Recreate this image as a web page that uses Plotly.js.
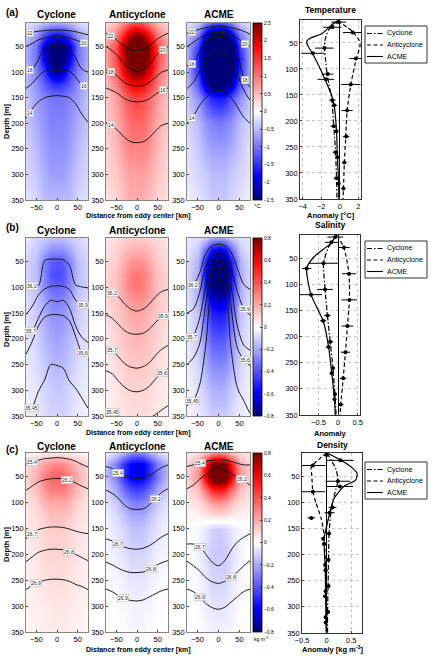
<!DOCTYPE html>
<html>
<head>
<meta charset="utf-8">
<script src="https://cdn.plot.ly/plotly-3.0.1.min.js"></script>
<style>html,body{margin:0;padding:0;background:#fff}#chart{width:434px;height:656px}</style>
</head>
<body>
<div id="chart"></div>
<script>
// ---------- sections: grid of the composite eddy fields ----------
const distKm = [-75, -50, -30, -15, 0, 15, 30, 50, 75];
const depthM = [4, 25, 50, 75, 100, 125, 150, 200, 250, 300, 350];

// temperature anomaly (°C), rows = depthM, columns = distKm
const tempCyclone = [
  [-0.2,-0.3,-0.5,-0.6,-0.6,-0.6,-0.5,-0.3,-0.2],
  [-0.4,-0.7,-1.3,-1.6,-1.7,-1.6,-1.3,-0.7,-0.4],
  [-0.6,-1.0,-2.1,-2.6,-2.7,-2.6,-2.1,-1.0,-0.6],
  [-0.6,-1.0,-2.0,-2.6,-2.8,-2.6,-2.0,-1.0,-0.6],
  [-0.5,-0.9,-1.5,-2.1,-2.4,-2.1,-1.5,-0.9,-0.5],
  [-0.5,-0.8,-1.2,-1.4,-1.5,-1.4,-1.2,-0.8,-0.5],
  [-0.4,-0.7,-0.9,-1.0,-1.0,-1.0,-0.9,-0.7,-0.4],
  [-0.4,-0.6,-0.8,-0.9,-0.9,-0.9,-0.8,-0.6,-0.4],
  [-0.3,-0.5,-0.7,-0.8,-0.8,-0.8,-0.7,-0.5,-0.3],
  [-0.3,-0.4,-0.6,-0.7,-0.7,-0.7,-0.6,-0.4,-0.3],
  [-0.2,-0.3,-0.5,-0.5,-0.5,-0.5,-0.5,-0.3,-0.2]
];
const tempAnticyclone = [
  [0.3,0.5,0.9,1.2,1.3,1.2,0.9,0.5,0.3],
  [0.5,0.9,1.7,2.2,2.4,2.2,1.7,0.9,0.5],
  [0.7,1.3,2.4,2.9,3.1,2.9,2.4,1.3,0.7],
  [0.7,1.3,2.3,2.9,3.0,2.9,2.3,1.3,0.7],
  [0.6,1.1,2.0,2.4,2.5,2.4,2.0,1.1,0.6],
  [0.5,0.9,1.5,1.8,1.9,1.8,1.5,0.9,0.5],
  [0.4,0.7,1.1,1.3,1.4,1.3,1.1,0.7,0.4],
  [0.4,0.6,0.9,1.1,1.1,1.1,0.9,0.6,0.4],
  [0.3,0.5,0.8,0.9,0.9,0.9,0.8,0.5,0.3],
  [0.3,0.4,0.6,0.7,0.7,0.7,0.6,0.4,0.3],
  [0.2,0.3,0.5,0.6,0.6,0.6,0.5,0.3,0.2]
];
const tempAcme = [
  [-0.2,-0.4,-0.9,-1.2,-1.3,-1.2,-0.9,-0.4,-0.2],
  [-0.4,-0.9,-2.0,-2.5,-2.6,-2.5,-2.0,-0.9,-0.4],
  [-0.6,-1.4,-2.8,-3.2,-3.3,-3.2,-2.8,-1.4,-0.6],
  [-0.6,-1.6,-2.9,-3.3,-3.4,-3.3,-2.9,-1.6,-0.6],
  [-0.6,-1.5,-2.7,-3.0,-3.1,-3.0,-2.7,-1.5,-0.6],
  [-0.5,-1.2,-2.2,-2.6,-2.7,-2.6,-2.2,-1.2,-0.5],
  [-0.4,-0.8,-1.3,-1.6,-1.7,-1.6,-1.3,-0.8,-0.4],
  [-0.3,-0.5,-0.8,-0.9,-1.0,-0.9,-0.8,-0.5,-0.3],
  [-0.2,-0.4,-0.6,-0.7,-0.7,-0.7,-0.6,-0.4,-0.2],
  [-0.2,-0.3,-0.4,-0.5,-0.5,-0.5,-0.4,-0.3,-0.2],
  [-0.1,-0.2,-0.3,-0.4,-0.4,-0.4,-0.3,-0.2,-0.1]
];

// salinity anomaly
const salCyclone = [
  [-0.05,-0.1,-0.12,-0.15,-0.15,-0.15,-0.12,-0.1,-0.05],
  [-0.08,-0.12,-0.2,-0.25,-0.25,-0.25,-0.2,-0.12,-0.08],
  [-0.1,-0.15,-0.3,-0.38,-0.4,-0.38,-0.3,-0.15,-0.1],
  [-0.1,-0.15,-0.3,-0.4,-0.42,-0.4,-0.3,-0.15,-0.1],
  [-0.1,-0.15,-0.28,-0.35,-0.36,-0.35,-0.28,-0.15,-0.1],
  [-0.08,-0.13,-0.22,-0.28,-0.3,-0.28,-0.22,-0.13,-0.08],
  [-0.07,-0.12,-0.2,-0.25,-0.26,-0.25,-0.2,-0.12,-0.07],
  [-0.06,-0.1,-0.17,-0.2,-0.22,-0.2,-0.17,-0.1,-0.06],
  [-0.05,-0.08,-0.13,-0.16,-0.17,-0.16,-0.13,-0.08,-0.05],
  [-0.04,-0.06,-0.1,-0.12,-0.13,-0.12,-0.1,-0.06,-0.04],
  [-0.03,-0.05,-0.08,-0.1,-0.1,-0.1,-0.08,-0.05,-0.03]
];
const salAnticyclone = [
  [0.05,0.08,0.1,0.12,0.12,0.12,0.1,0.08,0.05],
  [0.07,0.1,0.15,0.18,0.18,0.18,0.15,0.1,0.07],
  [0.08,0.12,0.2,0.25,0.26,0.25,0.2,0.12,0.08],
  [0.1,0.14,0.24,0.3,0.32,0.3,0.24,0.14,0.1],
  [0.1,0.14,0.24,0.3,0.32,0.3,0.24,0.14,0.1],
  [0.09,0.13,0.2,0.25,0.26,0.25,0.2,0.13,0.09],
  [0.08,0.12,0.17,0.2,0.21,0.2,0.17,0.12,0.08],
  [0.06,0.1,0.14,0.16,0.17,0.16,0.14,0.1,0.06],
  [0.05,0.08,0.11,0.13,0.13,0.13,0.11,0.08,0.05],
  [0.04,0.06,0.09,0.1,0.1,0.1,0.09,0.06,0.04],
  [0.03,0.05,0.07,0.08,0.08,0.08,0.07,0.05,0.03]
];
const salAcme = [
  [-0.05,-0.08,-0.12,-0.2,-0.22,-0.2,-0.12,-0.08,-0.05],
  [-0.06,-0.12,-0.35,-0.55,-0.6,-0.55,-0.35,-0.12,-0.06],
  [-0.08,-0.18,-0.55,-0.8,-0.85,-0.8,-0.55,-0.18,-0.08],
  [-0.08,-0.2,-0.6,-0.85,-0.9,-0.85,-0.6,-0.2,-0.08],
  [-0.08,-0.2,-0.55,-0.78,-0.82,-0.78,-0.55,-0.2,-0.08],
  [-0.07,-0.18,-0.45,-0.65,-0.7,-0.65,-0.45,-0.18,-0.07],
  [-0.06,-0.15,-0.38,-0.52,-0.55,-0.52,-0.38,-0.15,-0.06],
  [-0.05,-0.12,-0.28,-0.38,-0.4,-0.38,-0.28,-0.12,-0.05],
  [-0.04,-0.1,-0.2,-0.27,-0.28,-0.27,-0.2,-0.1,-0.04],
  [-0.03,-0.07,-0.13,-0.18,-0.19,-0.18,-0.13,-0.07,-0.03],
  [-0.02,-0.05,-0.08,-0.12,-0.12,-0.12,-0.08,-0.05,-0.02]
];

// density anomaly (kg m-3)
const denCyclone = [
  [0.02,0.03,0.05,0.05,0.05,0.05,0.05,0.03,0.02],
  [0.08,0.15,0.22,0.27,0.28,0.27,0.22,0.15,0.08],
  [0.1,0.18,0.3,0.35,0.36,0.35,0.3,0.18,0.1],
  [0.08,0.15,0.25,0.3,0.3,0.3,0.25,0.15,0.08],
  [0.06,0.1,0.18,0.2,0.2,0.2,0.18,0.1,0.06],
  [0.05,0.08,0.12,0.15,0.15,0.15,0.12,0.08,0.05],
  [0.05,0.07,0.1,0.12,0.12,0.12,0.1,0.07,0.05],
  [0.04,0.06,0.09,0.1,0.1,0.1,0.09,0.06,0.04],
  [0.03,0.05,0.07,0.08,0.08,0.08,0.07,0.05,0.03],
  [0.03,0.04,0.05,0.06,0.06,0.06,0.05,0.04,0.03],
  [0.02,0.03,0.04,0.05,0.05,0.05,0.04,0.03,0.02]
];
const denAnticyclone = [
  [-0.05,-0.1,-0.2,-0.28,-0.3,-0.28,-0.2,-0.1,-0.05],
  [-0.15,-0.3,-0.5,-0.6,-0.62,-0.6,-0.5,-0.3,-0.15],
  [-0.15,-0.3,-0.5,-0.6,-0.62,-0.6,-0.5,-0.3,-0.15],
  [-0.1,-0.2,-0.35,-0.42,-0.45,-0.42,-0.35,-0.2,-0.1],
  [-0.06,-0.12,-0.22,-0.28,-0.3,-0.28,-0.22,-0.12,-0.06],
  [-0.04,-0.08,-0.15,-0.2,-0.2,-0.2,-0.15,-0.08,-0.04],
  [-0.03,-0.06,-0.1,-0.14,-0.15,-0.14,-0.1,-0.06,-0.03],
  [-0.02,-0.04,-0.07,-0.1,-0.1,-0.1,-0.07,-0.04,-0.02],
  [-0.01,-0.02,-0.04,-0.06,-0.06,-0.06,-0.04,-0.02,-0.01],
  [0,-0.01,-0.02,-0.03,-0.03,-0.03,-0.02,-0.01,0],
  [0,0,-0.01,-0.02,-0.02,-0.02,-0.01,0,0]
];
const denAcme = [
  [0.05,0.08,0.15,0.25,0.3,0.25,0.15,0.08,0.05],
  [0.1,0.2,0.55,0.8,0.85,0.8,0.55,0.2,0.1],
  [0.12,0.25,0.65,0.9,0.95,0.9,0.65,0.25,0.12],
  [0.08,0.15,0.35,0.5,0.55,0.5,0.35,0.15,0.08],
  [0.05,0.08,0.15,0.22,0.25,0.22,0.15,0.08,0.05],
  [0.02,0.03,0.05,0.07,0.08,0.07,0.05,0.03,0.02],
  [0,-0.02,-0.06,-0.1,-0.12,-0.1,-0.06,-0.02,0],
  [0,-0.03,-0.08,-0.12,-0.13,-0.12,-0.08,-0.03,0],
  [0,-0.02,-0.06,-0.1,-0.1,-0.1,-0.06,-0.02,0],
  [0,-0.01,-0.04,-0.06,-0.07,-0.06,-0.04,-0.01,0],
  [0,0,-0.02,-0.03,-0.03,-0.03,-0.02,0,0]
];

// ---------- isolines of the absolute fields: depth (m) at isoX ----------
const isoX = [-75, -60, -45, -30, -15, 0, 15, 30, 45, 60, 75];

const tempCyc22 = [24,22,20,19,18,18,18,19,21,24,27];
const tempCyc20 = [50,44,37,33,31,30,31,33,37,42,47];
const tempCyc18 = [98,95,75,55,50,48,50,55,72,94,100];
const tempCyc16 = [132,122,108,98,96,96,96,98,110,125,132];
const tempCyc14 = [190,172,158,150,147,146,147,150,162,182,198];
const tempAnti22 = [24,30,40,50,56,58,56,48,38,30,24];
const tempAnti20 = [50,58,70,85,95,98,95,85,68,57,50];
const tempAnti18 = [96,100,110,120,126,127,126,120,110,100,96];
const tempAnti16 = [131,136,143,152,157,158,157,152,143,136,131];
const tempAnti14 = [199,205,215,228,236,238,236,228,215,204,200];
const tempAcme22 = [24,20,16,13,11,10,11,13,16,20,26];
const tempAcme20 = [50,42,33,27,23,22,23,27,34,42,50];
const tempAcme18 = [88,82,60,42,33,30,33,42,65,110,130];
const tempAcme16 = [132,120,98,78,66,62,66,80,105,135,155];
const tempAcme14 = [200,186,165,150,140,135,140,150,168,188,200];

const salCyc362 = [100,98,97,48,45,45,46,57,95,99,101];
const salCyc359 = [153,137,115,103,98,97,98,104,125,133,137];
const salCyc357 = [190,184,160,137,125,128,125,140,175,197,207];
const salCyc356 = [230,205,175,158,153,153,155,165,195,226,233];
const salCyc3545 = [342,333,302,280,250,252,257,282,296,315,335];
const salAnti362 = [107,110,118,132,142,146,142,132,118,108,104];
const salAnti359 = [153,160,172,184,190,191,189,181,168,157,150];
const salAnti357 = [215,222,235,248,255,257,254,246,232,220,213];
const salAnti356 = [262,268,282,294,301,303,300,292,278,266,258];
const salAnti3545 = [335,342,350,358,362,362,360,354,347,338,330];
const salAcme362 = [100,95,72,33,19,16,19,32,63,94,104];
const salAcme359 = [150,142,110,58,38,33,38,62,108,141,154];
const salAcme357 = [205,194,160,95,58,49,58,100,175,212,222];
const salAcme356 = [250,237,210,130,70,62,70,140,218,240,252];
const salAcme3545 = [330,320,290,210,100,85,100,220,295,320,345];

const denCyc254 = [27,22,18,15,14,13,14,16,20,26,31];
const denCyc262 = [76,68,60,56,54,53,54,56,62,68,73];
const denCyc267 = [170,160,152,149,147,147,148,151,155,158,160];
const denCyc268 = [214,205,196,192,190,190,191,195,200,206,212];
const denCyc269 = [268,260,254,250,248,248,249,252,258,262,268];
const denAnti254 = [30,34,42,49,52,53,52,48,40,32,27];
const denAnti262 = [76,82,92,105,112,113,112,104,92,80,73];
const denAnti267 = [170,174,180,186,189,190,188,183,175,166,160];
const denAnti268 = [215,220,227,232,235,235,234,230,222,216,212];
const denAnti269 = [267,272,280,286,289,290,288,282,276,270,267];
const denAcme254 = [30,27,24,20,18,17,18,20,24,27,27];
const denAcme262 = [73,66,55,45,36,30,36,44,50,57,66];
const denAcme267 = [180,180,185,200,215,222,212,192,176,167,160];
const denAcme268 = [213,222,232,245,253,256,252,243,234,222,212];
const denAcme269 = [267,272,282,295,303,306,302,292,282,272,267];

// ---------- mean anomaly profiles ----------
const cycSampleDepth = [10, 60, 110, 160, 210, 260, 310];
const acmeSampleDepth = [20, 70, 120, 170, 220, 270, 320];
const antiSampleDepth = [30, 80, 130, 180, 230, 280, 330];

const tempCycLineDepth = [6,10,25,45,61,80,112,160,210,260,310,350];
const tempCycLineVal = [-0.1,-0.25,-1.2,-1.6,-1.65,-1.55,-1.35,-0.85,-0.65,-0.45,-0.35,-0.3];
const tempAntiLineDepth = [6,10,20,30,45,55,80,130,180,230,280,330,350];
const tempAntiLineVal = [-0.1,0.0,0.8,1.5,2.1,2.2,1.8,1.2,0.8,0.65,0.5,0.4,0.35];
const tempAcmeLineDepth = [6,15,32,41,48,57,69,100,120,150,170,220,270,320,350];
const tempAcmeLineVal = [-0.1,-0.87,-1.9,-3.2,-3.6,-3.4,-3.0,-2.1,-1.6,-0.9,-0.6,-0.35,-0.25,-0.12,-0.1];
const tempCycMean = [-0.1,-1.65,-1.3,-0.8,-0.65,-0.45,-0.35];
const tempCycErr = [0.8,1.0,0.6,0.35,0.35,0.3,0.3];
const tempAcmeMean = [-0.8,-2.9,-1.5,-0.6,-0.35,-0.25,-0.12];
const tempAcmeErr = [1.0,1.25,0.9,0.3,0.2,0.2,0.15];
const tempAntiMean = [1.4,1.75,1.2,0.8,0.7,0.5,0.4];
const tempAntiErr = [1.05,0.7,1.05,0.6,0.35,0.25,0.2];

const salCycLineDepth = [6,12,30,60,110,160,210,260,310,350];
const salCycLineVal = [-0.03,-0.09,-0.25,-0.37,-0.33,-0.27,-0.2,-0.13,-0.08,-0.05];
const salAntiLineDepth = [6,12,30,80,130,180,230,280,330,350];
const salAntiLineVal = [0.0,0.02,0.15,0.28,0.29,0.24,0.19,0.13,0.07,0.05];
const salAcmeLineDepth = [6,12,23,49,70,120,170,220,270,320,350];
const salAcmeLineVal = [-0.03,-0.09,-0.2,-0.63,-0.8,-0.69,-0.38,-0.24,-0.16,-0.09,-0.07];
const salCycMean = [-0.07,-0.37,-0.33,-0.27,-0.2,-0.13,-0.08];
const salCycErr = [0.2,0.37,0.2,0.08,0.08,0.05,0.04];
const salAcmeMean = [-0.17,-0.8,-0.69,-0.38,-0.24,-0.16,-0.09];
const salAcmeErr = [0.17,0.12,0.28,0.08,0.08,0.05,0.04];
const salAntiMean = [0.15,0.28,0.29,0.24,0.19,0.13,0.07];
const salAntiErr = [0.15,0.18,0.2,0.15,0.12,0.08,0.07];

const denCycLineDepth = [6,20,40,60,75,110,160,210,260,310,350];
const denCycLineVal = [0,0.1,0.2,0.23,0.19,0.1,0.05,0.04,0.03,0.02,0.02];
const denAntiLineDepth = [6,15,32,50,79,100,131,163,180,230,280,330,350];
const denAntiLineVal = [0.0,-0.12,-0.31,-0.3,-0.28,-0.22,-0.11,-0.05,-0.04,-0.02,-0.01,0,0];
const denAcmeLineDepth = [6,16,32,45,58,70,93,112,138,170,221,272,349];
const denAcmeLineVal = [0,0.22,0.49,0.62,0.59,0.35,0.15,0.09,0.02,-0.05,-0.03,-0.02,-0.01];
const denCycMean = [0.0,0.23,0.12,0.05,0.04,0.04,0.03];
const denCycErr = [0.05,0.25,0.08,0.04,0.03,0.03,0.03];
const denAcmeMean = [0.28,0.27,0.06,-0.07,-0.03,-0.02,-0.02];
const denAcmeErr = [0.27,0.27,0.1,0.03,0.03,0.03,0.02];
const denAntiMean = [-0.28,-0.28,-0.31,-0.05,-0.02,-0.03,-0.02];
const denAntiErr = [0.26,0.25,0.08,0.05,0.04,0.03,0.03];

// ---------- figure geometry (pixels of the 434 x 656 page) ----------
const W = 434, H = 656;
const px = v => v / W;
const py = v => 1 - v / H;
const FONT = 'Liberation Sans, Arial, Helvetica, sans-serif';
const heatCols = [[26, 88], [106, 168], [187, 250]];
const heatRows = [[23, 200], [238, 416], [453, 632]];
const profCols = [[300, 361], [300, 360], [302, 362]];
const profRows = [[20, 199], [235, 415], [453, 633]];

const blueWhiteRed = [
  [0, 'rgb(0,0,120)'], [0.13, 'rgb(0,0,255)'], [0.5, 'rgb(255,255,255)'],
  [0.87, 'rgb(255,0,0)'], [1, 'rgb(120,0,0)']
];

const panelRows = [
  {
    tag: '(a)', fields: [tempCyclone, tempAnticyclone, tempAcme], cmax: 2.5,
    cticks: [-2.5,-2,-1.5,-1,-0.5,0,0.5,1,1.5,2,2.5],
    iso: [
      [['22', tempCyc22, [-66]], ['20', tempCyc20, [66]], ['18', tempCyc18, [-66]], ['16', tempCyc16, [66]], ['14', tempCyc14, [-66]]],
      [['22', tempAnti22, [-62]], ['20', tempAnti20, [62]], ['18', tempAnti18, [-62]], ['16', tempAnti16, [62]], ['14', tempAnti14, [-62]]],
      [['22', tempAcme22, [-64]], ['20', tempAcme20, [64]], ['18', tempAcme18, [-64, 64]], ['16', tempAcme16, []], ['14', tempAcme14, [-64]]]
    ],
    prof: {
      title: 'Temperature', xtitle: 'Anomaly [°C]', range: [-4.3, 2.3], ticks: [-4, -2, 0, 2],
      lines: [[tempCycLineVal, tempCycLineDepth], [tempAntiLineVal, tempAntiLineDepth], [tempAcmeLineVal, tempAcmeLineDepth]],
      marks: [[tempCycMean, tempCycErr, cycSampleDepth], [tempAntiMean, tempAntiErr, antiSampleDepth], [tempAcmeMean, tempAcmeErr, acmeSampleDepth]]
    },
    titleY: 14, tagY: 13, distY: 216, depthY: 122, legendTop: 26, profTitleY: 10, profXTitleY: 215.5
  },
  {
    tag: '(b)', fields: [salCyclone, salAnticyclone, salAcme], cmax: 0.8,
    cticks: [-0.8,-0.6,-0.4,-0.2,0,0.2,0.4,0.6,0.8],
    iso: [
      [['36.2', salCyc362, [-60]], ['35.9', salCyc359, [62]], ['35.7', salCyc357, [-64]], ['35.6', salCyc356, [62]], ['35.45', salCyc3545, [-62]]],
      [['36.2', salAnti362, [-60]], ['35.9', salAnti359, [62]], ['35.7', salAnti357, [-60]], ['35.6', salAnti356, [60]], ['35.45', salAnti3545, [-60]]],
      [['36.2', salAcme362, [-60]], ['35.9', salAcme359, [62]], ['35.7', salAcme357, [-62]], ['35.6', salAcme356, [62]], ['35.45', salAcme3545, [-62]]]
    ],
    prof: {
      title: 'Salinity', xtitle: 'Anomaly', range: [-0.97, 0.56], ticks: [-0.5, 0, 0.5],
      lines: [[salCycLineVal, salCycLineDepth], [salAntiLineVal, salAntiLineDepth], [salAcmeLineVal, salAcmeLineDepth]],
      marks: [[salCycMean, salCycErr, cycSampleDepth], [salAntiMean, salAntiErr, antiSampleDepth], [salAcmeMean, salAcmeErr, acmeSampleDepth]]
    },
    titleY: 230, tagY: 228, distY: 433.5, depthY: 330, legendTop: 241, profTitleY: 225, profXTitleY: 433
  },
  {
    tag: '(c)', fields: [denCyclone, denAnticyclone, denAcme], cmax: 0.8,
    cticks: [-0.8,-0.6,-0.4,-0.2,0,0.2,0.4,0.6,0.8],
    iso: [
      [['25.4', denCyc254, [-60]], ['26.2', denCyc262, [25]], ['26.7', denCyc267, [-60]], ['26.8', denCyc268, [30]], ['26.9', denCyc269, [-50]]],
      [['25.4', denAnti254, [-45]], ['26.2', denAnti262, [45]], ['26.7', denAnti267, [-45]], ['26.8', denAnti268, [35]], ['26.9', denAnti269, [-35]]],
      [['25.4', denAcme254, [-45]], ['26.2', denAcme262, [55]], ['26.7', denAcme267, [-45]], ['26.8', denAcme268, [30]], ['26.9', denAcme269, [-45]]]
    ],
    prof: {
      title: 'Density', xtitle: 'Anomaly [kg m<sup>-3</sup>]', range: [-0.5, 0.72], ticks: [-0.5, 0, 0.5],
      lines: [[denCycLineVal, denCycLineDepth], [denAntiLineVal, denAntiLineDepth], [denAcmeLineVal, denAcmeLineDepth]],
      marks: [[denCycMean, denCycErr, cycSampleDepth], [denAntiMean, denAntiErr, antiSampleDepth], [denAcmeMean, denAcmeErr, acmeSampleDepth]]
    },
    titleY: 446, tagY: 449, distY: 649.5, depthY: 545, legendTop: 462, profTitleY: 445, profXTitleY: 649
  }
];

const columnNames = ['Cyclone', 'Anticyclone', 'ACME'];
const seriesNames = ['Cyclone', 'Anticyclone', 'ACME'];
const seriesDash = ['5px,2px,1.5px,2px', '4px,2.5px', 'solid'];

function depthAt(depths, x) {
  for (let i = 0; i < isoX.length - 1; i++) {
    if (x >= isoX[i] && x <= isoX[i + 1]) {
      const t = (x - isoX[i]) / (isoX[i + 1] - isoX[i]);
      return depths[i] + t * (depths[i + 1] - depths[i]);
    }
  }
  return depths[depths.length - 1];
}

const traces = [];
const annotations = [];
const shapes = [];
const layout = {
  width: W, height: H,
  margin: { l: 0, r: 0, t: 0, b: 0 },
  paper_bgcolor: 'white', plot_bgcolor: 'white',
  showlegend: false,
  font: { family: FONT, size: 8, color: '#000' }
};

function txt(text, x, y, size, opts) {
  annotations.push(Object.assign({
    text: text, x: px(x), y: py(y), xref: 'paper', yref: 'paper',
    showarrow: false, font: { family: FONT, size: size, color: '#000' },
    xanchor: 'center', yanchor: 'middle'
  }, opts || {}));
}

panelRows.forEach((row, r) => {
  const caName = r === 0 ? 'coloraxis' : 'coloraxis' + (r + 1);
  const [top, bottom] = heatRows[r];
  layout[caName] = {
    colorscale: blueWhiteRed, cmin: -row.cmax, cmax: row.cmax,
    colorbar: {
      x: px(253), xanchor: 'left', xpad: 0, ypad: 0,
      y: py((top + bottom) / 2), yanchor: 'middle',
      len: bottom - top, lenmode: 'pixels', thickness: 9, thicknessmode: 'pixels',
      tickvals: row.cticks, tickfont: { family: FONT, size: 5 },
      ticks: 'inside', ticklen: 2, outlinewidth: 0.8, outlinecolor: '#000'
    }
  };

  // three sections
  for (let c = 0; c < 3; c++) {
    const n = r * 4 + c + 1;
    const xa = 'x' + (n === 1 ? '' : n), ya = 'y' + (n === 1 ? '' : n);
    const xKey = 'xaxis' + (n === 1 ? '' : n), yKey = 'yaxis' + (n === 1 ? '' : n);
    layout[xKey] = {
      domain: [px(heatCols[c][0]), px(heatCols[c][1])], anchor: ya,
      range: [-75, 75], tickvals: [-50, 0, 50], ticks: 'inside', ticklen: 2,
      showline: true, mirror: true, linecolor: '#666', linewidth: 0.8,
      showgrid: false, zeroline: false, tickfont: { family: FONT, size: 7.5 }
    };
    layout[yKey] = {
      domain: [py(bottom), py(top)], anchor: xa,
      range: [350, 4], tickvals: [50, 100, 150, 200, 250, 300, 350], ticks: 'inside', ticklen: 2,
      showline: true, mirror: true, linecolor: '#666', linewidth: 0.8,
      showgrid: false, zeroline: false, tickfont: { family: FONT, size: 7.5 }
    };
    traces.push({
      type: 'heatmap', x: distKm, y: depthM, z: row.fields[c], coloraxis: caName,
      zsmooth: 'best', xaxis: xa, yaxis: ya, hoverinfo: 'skip'
    });
    row.iso[c].forEach(([level, depths, labelXs]) => {
      traces.push({
        type: 'scatter', mode: 'lines', x: isoX, y: depths, xaxis: xa, yaxis: ya,
        line: { color: '#1a1a1a', width: 1, shape: 'spline', smoothing: 0.9 },
        hoverinfo: 'skip', showlegend: false
      });
      labelXs.forEach(lx => {
        annotations.push({
          text: level, x: lx, y: depthAt(depths, lx), xref: xa, yref: ya, showarrow: false,
          font: { family: FONT, size: 5, color: '#222' }, bgcolor: 'white',
          bordercolor: '#bbb', borderwidth: 0.6, borderpad: 0.5
        });
      });
    });
    const cx = (heatCols[c][0] + heatCols[c][1]) / 2;
    txt('<b>' + columnNames[c] + '</b>', cx, row.titleY, 10);
  }

  // profile panel
  const n = r * 4 + 4;
  const xa = 'x' + n, ya = 'y' + n;
  const [pt, pb] = profRows[r];
  const [pl, pr] = profCols[r];
  layout['xaxis' + n] = {
    domain: [px(pl), px(pr)], anchor: ya, range: row.prof.range, tickvals: row.prof.ticks,
    ticks: 'inside', ticklen: 2, showline: true, mirror: true, linecolor: '#000', linewidth: 0.8,
    showgrid: true, gridcolor: '#aaa', griddash: 'dot', gridwidth: 0.7,
    zeroline: true, zerolinecolor: '#000', zerolinewidth: 1, tickfont: { family: FONT, size: 7.5 }
  };
  layout['yaxis' + n] = {
    domain: [py(pb), py(pt)], anchor: xa, range: [350, 6],
    tickvals: [50, 100, 150, 200, 250, 300, 350], ticks: 'inside', ticklen: 2,
    showline: true, mirror: true, linecolor: '#000', linewidth: 0.8,
    showgrid: true, gridcolor: '#aaa', griddash: 'dot', gridwidth: 0.7,
    zeroline: false, tickfont: { family: FONT, size: 7.5 }
  };
  row.prof.lines.forEach(([vals, depths], s) => {
    traces.push({
      type: 'scatter', mode: 'lines', x: vals, y: depths, xaxis: xa, yaxis: ya, name: seriesNames[s],
      line: { color: '#000', width: 1.2, dash: seriesDash[s], shape: 'spline', smoothing: 0.6 },
      hoverinfo: 'skip'
    });
  });
  row.prof.marks.forEach(([vals, errs, depths]) => {
    traces.push({
      type: 'scatter', mode: 'markers', x: vals, y: depths, xaxis: xa, yaxis: ya,
      marker: { color: '#000', size: 4 },
      error_x: { type: 'data', array: errs, visible: true, color: '#000', thickness: 1, width: 0 },
      hoverinfo: 'skip'
    });
  });
  txt('<b>' + row.prof.title + '</b>', (pl + pr) / 2, row.profTitleY, 8.5);
  txt('<b>' + row.prof.xtitle + '</b>', (pl + pr) / 2, row.profXTitleY, 7.5);

  // legend box for the three profiles
  const lt = row.legendTop;
  shapes.push({ type: 'rect', xref: 'paper', yref: 'paper', x0: px(365), x1: px(427), y0: py(lt), y1: py(lt + 37),
    line: { color: '#333', width: 1 }, fillcolor: 'white' });
  seriesNames.forEach((nm, s) => {
    const yy = lt + 7.5 + s * 11.5;
    shapes.push({ type: 'line', xref: 'paper', yref: 'paper', x0: px(367), x1: px(383), y0: py(yy), y1: py(yy),
      line: { color: '#000', width: 1.1, dash: seriesDash[s] } });
    txt(nm, 384.5, yy, 7, { xanchor: 'left' });
  });

  // row labels
  txt('<b>' + row.tag + '</b>', 4, row.tagY, 10, { xanchor: 'left' });
  txt('<b>Distance from eddy center [km]</b>', 138, row.distY, 7);
  txt('<b>Depth [m]</b>', 6, row.depthY, 7.5, { textangle: -90 });
});

txt('°C', 257, 206, 6);
txt('kg m<sup>-3</sup>', 252, 639, 5, { xanchor: 'left' });

layout.annotations = annotations;
layout.shapes = shapes;

Plotly.newPlot('chart', traces, layout, { staticPlot: true, displayModeBar: false });
</script>
</body>
</html>
